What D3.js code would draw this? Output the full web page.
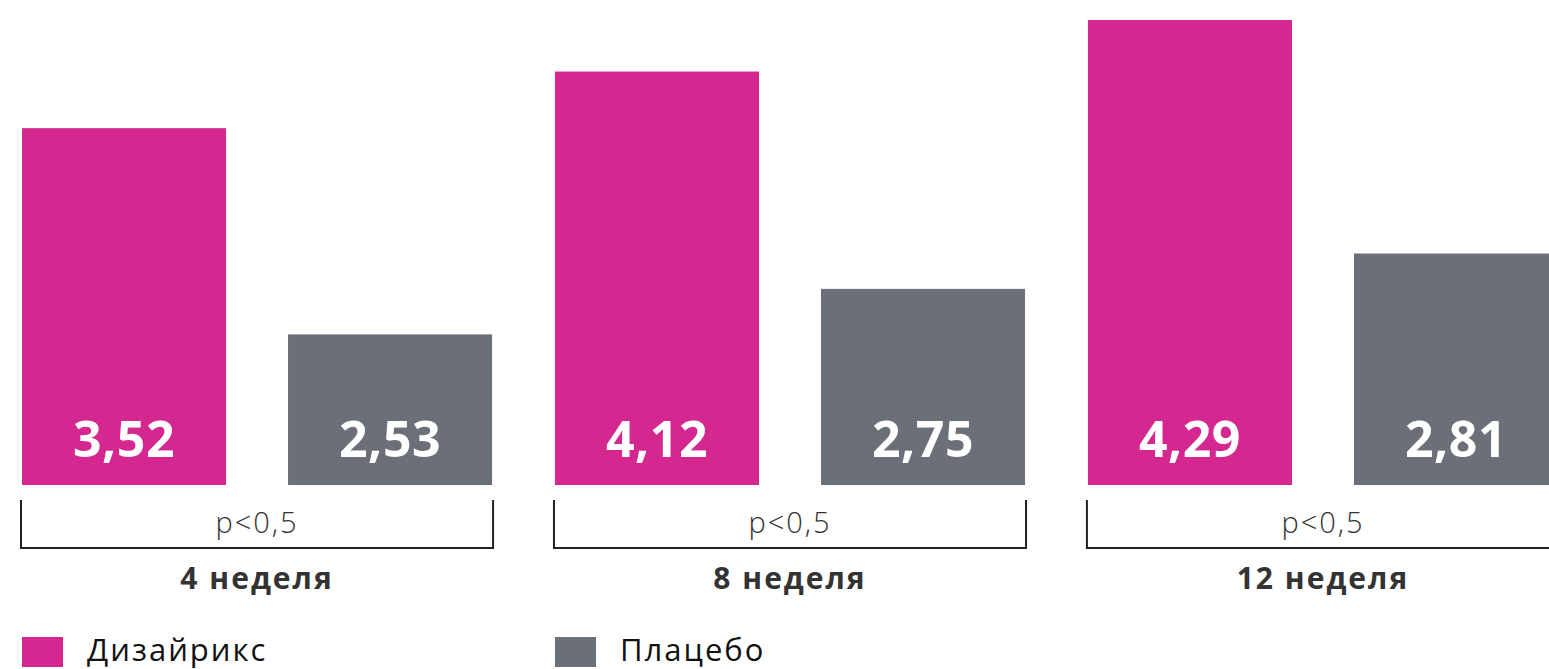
<!DOCTYPE html>
<html>
<head>
<meta charset="utf-8">
<script src="https://cdn.jsdelivr.net/npm/d3@7"></script>
<style>
  body { margin: 0; background: #fff; }
  svg { display: block; font-family: "Open Sans", "Noto Sans", sans-serif; }
</style>
</head>
<body>
<svg width="1549" height="669"></svg>
<script>
// data
var weeks = ["4 неделя", "8 неделя", "12 неделя"];
var series = ["Дизайрикс", "Плацебо"];
var colors = ["#d4278f", "#6b6f78"];
// values printed on the bars
var drugValues = [3.52, 4.12, 4.29];
var placeboValues = [2.53, 2.75, 2.81];
// bar lengths as drawn in the picture (not to scale with the printed values)
var drugDrawn = [3.53, 4.09, 4.60];
var placeboDrawn = [1.49, 1.94, 2.29];
var pLabels = ["p<0,5", "p<0,5", "p<0,5"];

var svg = d3.select("svg"),
    width = +svg.attr("width"),
    height = +svg.attr("height");

var baseY = 485;

// scales
var x0 = d3.scaleBand()
    .domain(weeks)
    .range([22, 1558])
    .paddingInner(0.118)
    .paddingOuter(0);
var x1 = d3.scaleBand()
    .domain(series)
    .range([0, x0.bandwidth()])
    .paddingInner(0.233)
    .paddingOuter(0);
var y = d3.scaleLinear()
    .domain([0, 4.6])
    .range([baseY, 20]);

var fmt = function (v) { return d3.format(".2f")(v).replace(".", ","); };

var rows = [];
weeks.forEach(function (w, i) {
    rows.push({week: w, s: series[0], val: drugValues[i], drawn: drugDrawn[i], c: colors[0]});
    rows.push({week: w, s: series[1], val: placeboValues[i], drawn: placeboDrawn[i], c: colors[1]});
});

// bars
svg.append("g").selectAll("rect")
    .data(rows)
    .enter()
    .append("rect")
    .attr("x", function (d) { return x0(d.week) + x1(d.s); })
    .attr("y", function (d) { return y(d.drawn); })
    .attr("width", x1.bandwidth())
    .attr("height", function (d) { return baseY - y(d.drawn); })
    .attr("fill", function (d) { return d.c; });

// value labels
svg.append("g").selectAll("text")
    .data(rows)
    .enter()
    .append("text")
    .attr("x", function (d) { return x0(d.week) + x1(d.s) + x1.bandwidth() / 2; })
    .attr("y", 457)
    .attr("text-anchor", "middle")
    .attr("font-size", "50px")
    .attr("font-weight", 700)
    .attr("letter-spacing", "0.5px")
    .attr("fill", "#fff")
    .text(function (d) { return fmt(d.val); });

// brackets
var br = svg.append("g").selectAll("g")
    .data(weeks)
    .enter()
    .append("g");

br.append("path")
    .attr("d", function (d) {
        var l = x0(d) - 1, r = x0(d) + x0.bandwidth() + 1;
        return "M" + l + ",500 V548 H" + r + " V500";
    })
    .attr("fill", "none")
    .attr("stroke", "#222")
    .attr("stroke-width", 2);

br.append("text")
    .attr("x", function (d) { return x0(d) + x0.bandwidth() / 2; })
    .attr("y", 533)
    .attr("text-anchor", "middle")
    .attr("font-size", "29px")
    .attr("font-weight", 300)
    .attr("letter-spacing", "2px")
    .attr("fill", "#333")
    .text(function (d, i) { return pLabels[i]; });

br.append("text")
    .attr("x", function (d) { return x0(d) + x0.bandwidth() / 2; })
    .attr("y", 589)
    .attr("text-anchor", "middle")
    .attr("font-size", "30px")
    .attr("font-weight", 700)
    .attr("letter-spacing", "2px")
    .attr("fill", "#333")
    .text(function (d) { return d; });

// legend
var lg = svg.append("g").selectAll("g")
    .data(series)
    .enter()
    .append("g")
    .attr("transform", function (d, i) { return "translate(" + (22 + i * 533) + ",637)"; });

lg.append("rect")
    .attr("width", 41)
    .attr("height", 30)
    .attr("fill", function (d, i) { return colors[i]; });

lg.append("text")
    .attr("x", 65)
    .attr("y", 24)
    .attr("font-size", "31px")
    .attr("letter-spacing", "2px")
    .attr("fill", "#111")
    .text(function (d) { return d; });
</script>
</body>
</html>
